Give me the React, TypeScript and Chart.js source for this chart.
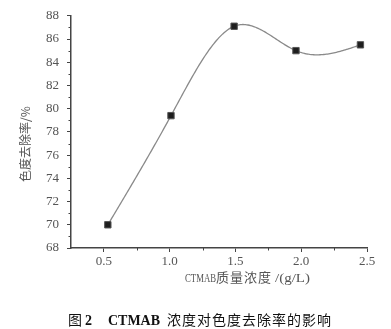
import React, { useEffect, useRef } from "react";
import { Chart, registerables } from "chart.js";

Chart.register(...registerables);

const concentration = [0.53, 1.01, 1.49, 1.96, 2.45];
const removalRate = [70.0, 79.4, 87.1, 85.0, 85.5];
const xTickValues = [0.5, 1.0, 1.5, 2.0, 2.5];
const xMinorTicks = [0.75, 1.25, 1.75, 2.25];
const yMinorTicks = [69, 71, 73, 75, 77, 79, 81, 83, 85, 87];
const yTitle = "色度去除率/%";
const xTitleLatin = "CTMAB";
const xTitleCjk = "质量浓度";
const xTitleUnit = "/(g/L)";
const captionLabel = "图 2";
const captionLatin = "CTMAB";
const captionCjk = "浓度对色度去除率的影响";

const SERIF = '"Liberation Serif", "DejaVu Serif", serif';
const CJK = '"Noto Sans CJK SC", sans-serif';

function naturalSpline(xs: number[], ys: number[]) {
  const n = xs.length;
  const h: number[] = [];
  for (let i = 0; i < n - 1; i++) h.push(xs[i + 1] - xs[i]);
  const m = new Array(n).fill(0);
  const a: number[] = new Array(n).fill(0);
  const b: number[] = new Array(n).fill(0);
  const c: number[] = new Array(n).fill(0);
  const d: number[] = new Array(n).fill(0);
  b[0] = 1; b[n - 1] = 1;
  for (let i = 1; i < n - 1; i++) {
    a[i] = h[i - 1];
    b[i] = 2 * (h[i - 1] + h[i]);
    c[i] = h[i];
    d[i] = 6 * ((ys[i + 1] - ys[i]) / h[i] - (ys[i] - ys[i - 1]) / h[i - 1]);
  }
  const cp = new Array(n).fill(0);
  const dp = new Array(n).fill(0);
  cp[0] = c[0] / b[0];
  dp[0] = d[0] / b[0];
  for (let i = 1; i < n; i++) {
    const den = b[i] - a[i] * cp[i - 1];
    cp[i] = c[i] / den;
    dp[i] = (d[i] - a[i] * dp[i - 1]) / den;
  }
  m[n - 1] = dp[n - 1];
  for (let i = n - 2; i >= 0; i--) m[i] = dp[i] - cp[i] * m[i + 1];
  return (x: number) => {
    let i = 0;
    while (i < n - 2 && x > xs[i + 1]) i++;
    const t1 = xs[i + 1] - x;
    const t0 = x - xs[i];
    const hi = h[i];
    return (
      (m[i] * t1 * t1 * t1) / (6 * hi) +
      (m[i + 1] * t0 * t0 * t0) / (6 * hi) +
      (ys[i] / hi - (m[i] * hi) / 6) * t1 +
      (ys[i + 1] / hi - (m[i + 1] * hi) / 6) * t0
    );
  };
}

function fitText(ctx: any, text: string, x: number, y: number, width: number) {
  const w = ctx.measureText(text).width;
  ctx.save();
  ctx.translate(x, y);
  ctx.scale(width / w, 1);
  ctx.fillText(text, 0, 0);
  ctx.restore();
}

const decorPlugin = {
  id: "decor",
  beforeDatasetsDraw(chart: any) {
    const { ctx, scales } = chart;
    const xs = scales.x;
    const ys = scales.y;
    const f = naturalSpline(concentration, removalRate);
    ctx.save();
    ctx.strokeStyle = "#8a8a8a";
    ctx.lineWidth = 1.3;
    ctx.beginPath();
    const x0 = concentration[0];
    const x1 = concentration[concentration.length - 1];
    const steps = 200;
    for (let k = 0; k <= steps; k++) {
      const xv = x0 + ((x1 - x0) * k) / steps;
      const px = xs.getPixelForValue(xv);
      const py = ys.getPixelForValue(f(xv));
      if (k === 0) ctx.moveTo(px, py);
      else ctx.lineTo(px, py);
    }
    ctx.stroke();
    ctx.restore();
  },
  afterDraw(chart: any) {
    const { ctx, scales, chartArea } = chart;
    const xs = scales.x;
    const ys = scales.y;
    ctx.save();
    ctx.strokeStyle = "#444";
    ctx.lineWidth = 1;
    ctx.beginPath();
    for (const v of yMinorTicks) {
      const py = Math.round(ys.getPixelForValue(v)) + 0.5;
      ctx.moveTo(chartArea.left - 2.5, py);
      ctx.lineTo(chartArea.left, py);
    }
    for (const v of xMinorTicks) {
      const px = Math.round(xs.getPixelForValue(v)) + 0.5;
      ctx.moveTo(px, chartArea.bottom);
      ctx.lineTo(px, chartArea.bottom + 2.5);
    }
    ctx.stroke();

    // y title
    ctx.fillStyle = "#555";
    ctx.font = `12px ${CJK}`;
    ctx.textAlign = "center";
    ctx.textBaseline = "middle";
    ctx.save();
    ctx.translate(25, 144);
    ctx.rotate(-Math.PI / 2);
    ctx.fillText(yTitle, 0, 0);
    ctx.restore();

    // x title
    ctx.textAlign = "left";
    ctx.textBaseline = "alphabetic";
    ctx.font = `13px ${SERIF}`;
    fitText(ctx, xTitleLatin, 185, 282, 31);
    ctx.font = `13px ${CJK}`;
    (ctx as any).letterSpacing = "1px";
    ctx.fillText(xTitleCjk, 216, 282);
    (ctx as any).letterSpacing = "0px";
    ctx.font = `13px ${SERIF}`;
    fitText(ctx, xTitleUnit, 275, 282, 35);

    // caption
    ctx.fillStyle = "#111";
    ctx.font = `14px ${CJK}`;
    ctx.fillText(captionLabel.split(" ")[0], 68, 325);
    ctx.font = `bold 14px ${SERIF}`;
    ctx.fillText(captionLabel.split(" ")[1], 85, 325);
    ctx.font = `bold 14px ${SERIF}`;
    fitText(ctx, captionLatin, 108, 325, 52);
    ctx.font = `14px ${CJK}`;
    (ctx as any).letterSpacing = "1px";
    ctx.fillText(captionCjk, 167, 325);
    (ctx as any).letterSpacing = "0px";
    ctx.restore();
  },
};

export default function App() {
  const ref = useRef<HTMLCanvasElement | null>(null);
  useEffect(() => {
    document.body.style.margin = "0";
    const canvas = ref.current;
    if (!canvas) return;
    const chart = new Chart(canvas, {
      type: "scatter",
      data: {
        datasets: [
          {
            data: concentration.map((x, i) => ({ x, y: removalRate[i] })),
            showLine: false,
            pointStyle: "rect",
            pointRadius: 4.5,
            pointBackgroundColor: "#1e1e1e",
            pointBorderColor: "#555",
            pointBorderWidth: 1,
          },
        ],
      },
      options: {
        responsive: false,
        animation: false,
        devicePixelRatio: 1,
        layout: { padding: { left: 0, top: 15, right: 24, bottom: 0 } },
        plugins: { legend: { display: false }, tooltip: { enabled: false } },
        scales: {
          x: {
            type: "linear",
            min: 0.25,
            max: 2.5,
            afterFit: (s: any) => {
              s.height = 81;
            },
            afterBuildTicks: (s: any) => {
              s.ticks = xTickValues.map((v) => ({ value: v }));
            },
            ticks: {
              color: "#555",
              font: { family: SERIF, size: 13 },
              padding: 2,
              maxRotation: 0,
              callback: (v: any) => Number(v).toFixed(1),
            },
            grid: { drawOnChartArea: false, drawTicks: true, tickLength: 4, color: "#444" },
            border: { display: true, color: "#444", width: 1.5 },
          },
          y: {
            min: 68,
            max: 88,
            afterFit: (s: any) => {
              s.width = 71;
            },
            ticks: {
              stepSize: 2,
              color: "#555",
              font: { family: SERIF, size: 13 },
              padding: 8,
            },
            grid: { drawOnChartArea: false, drawTicks: true, tickLength: 4, color: "#444" },
            border: { display: true, color: "#444", width: 1.5 },
          },
        },
      },
      plugins: [decorPlugin],
    });
    return () => chart.destroy();
  }, []);
  return <canvas ref={ref} width={391} height={329} style={{ display: "block" }} />;
}
